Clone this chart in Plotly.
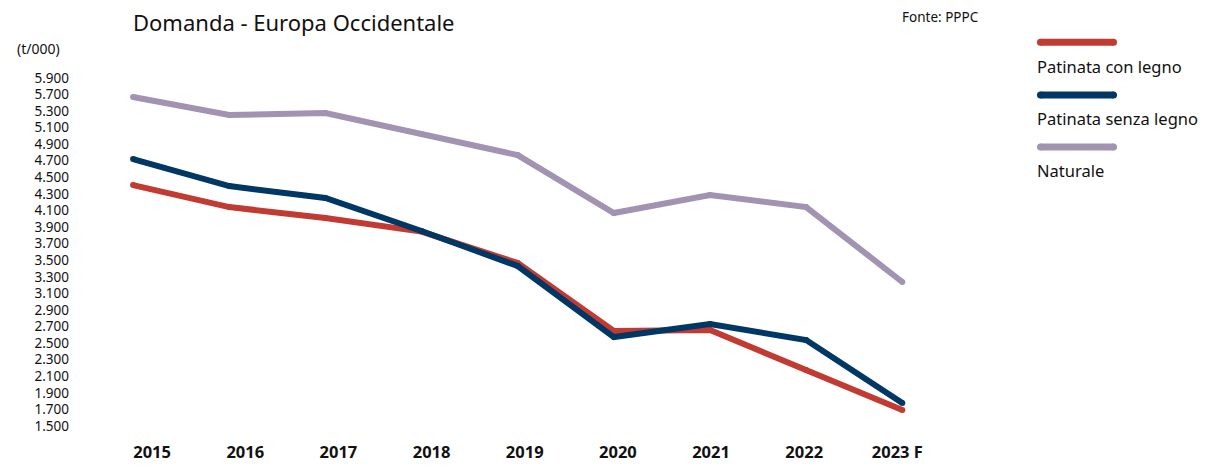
import plotly.graph_objects as go

anni = ["2015", "2016", "2017", "2018", "2019", "2020", "2021", "2022", "2023 F"]
patinata_con_legno = [4406, 4141, 4008, 3845, 3466, 2646, 2658, 2175, 1693]
patinata_senza_legno = [4720, 4394, 4250, 3852, 3430, 2573, 2730, 2537, 1777]
naturale = [5468, 5251, 5275, 5022, 4768, 4069, 4286, 4141, 3237]

serie = ["Patinata con legno", "Patinata senza legno", "Naturale"]
colori = ["#C23B33", "#003764", "#A393B3"]

# etichette asse y come nel grafico originale
y_tick_vals = list(range(1500, 5701, 200))
y_tick_text = ["1.500", "1.700", "1.900", "2.100", "2.300", "2.500", "2.700", "2.900",
               "3.100", "3.300", "3.500", "3.700", "3.900", "4.100", "4.300", "4.500",
               "4.700", "4.900", "5.100", "5.300", "5.700", "5.900"]

# nel grafico originale le etichette degli anni sono leggermente sfalsate rispetto ai punti
x_tick_pos = [0.198 + 0.9688 * i for i in range(len(anni))]

fig = go.Figure()
for nome, valori, col in zip(serie, [patinata_con_legno, patinata_senza_legno, naturale], colori):
    fig.add_trace(go.Scatter(
        x=list(range(len(anni))), y=valori, name=nome, mode="lines+markers",
        line=dict(color=col, width=6), marker=dict(color=col, size=6),
        showlegend=False, hoverinfo="x+y",
    ))

# legenda personalizzata: linea sopra, testo sotto
leg_x0, leg_x1 = 1.0904, 1.1725
leg_y_line = [1.047, 0.908, 0.771]
leg_y_text = [0.984, 0.847, 0.708]
for nome, col, yl, yt in zip(serie, colori, leg_y_line, leg_y_text):
    fig.add_shape(type="line", xref="paper", yref="paper",
                  x0=leg_x0, x1=leg_x1, y0=yl, y1=yl,
                  line=dict(color=col, width=7))
    for xe in (leg_x0, leg_x1):
        fig.add_shape(type="circle", xref="paper", yref="paper",
                      xsizemode="pixel", ysizemode="pixel", xanchor=xe, yanchor=yl,
                      x0=-3.5, x1=3.5, y0=-3.5, y1=3.5,
                      fillcolor=col, line=dict(width=0))
    fig.add_annotation(xref="paper", yref="paper", x=1.084, y=yt,
                       text=nome, showarrow=False, xanchor="left", yanchor="middle",
                       font=dict(family="Noto Sans", size=16.5, color="#111"))

fig.add_annotation(xref="paper", yref="paper", x=0.068, y=1.10, text="Domanda - Europa Occidentale",
                   showarrow=False, xanchor="left", yanchor="middle",
                   font=dict(family="Noto Sans", size=22, color="#111"))
fig.add_annotation(xref="paper", yref="paper", x=0.933, y=1.114, text="Fonte: PPPC",
                   showarrow=False, xanchor="left", yanchor="middle",
                   font=dict(family="Noto Sans", size=13.5, color="#111"))
fig.add_annotation(xref="paper", yref="paper", x=-0.062, y=1.03, text="(t/000)",
                   showarrow=False, xanchor="left", yanchor="middle",
                   font=dict(family="Noto Sans", size=14, color="#111"))

fig.update_layout(
    width=1210, height=468,
    margin=dict(l=62, r=258, t=52, b=36),
    plot_bgcolor="white", paper_bgcolor="white",
    xaxis=dict(
        range=[-0.656, 8.6], tickvals=x_tick_pos, ticktext=anni,
        showgrid=False, zeroline=False, showline=False, ticks="", automargin=False,
        tickfont=dict(family="Noto Sans", size=16.5, color="#111", weight="bold"),
    ),
    yaxis=dict(
        range=[1331, 5915], tickvals=y_tick_vals, ticktext=y_tick_text,
        showgrid=False, zeroline=False, showline=False, ticks="", automargin=False,
        tickfont=dict(family="Noto Sans", size=13.5, color="#111"),
    ),
)

fig.write_html("out.html")
